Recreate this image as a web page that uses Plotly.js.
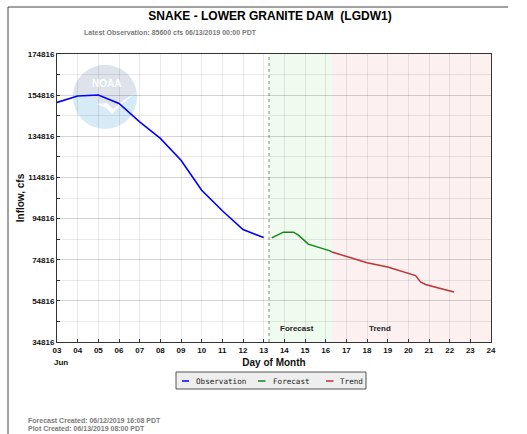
<!DOCTYPE html>
<html>
<head>
<meta charset="utf-8">
<script src="https://cdn.plot.ly/plotly-3.0.1.min.js"></script>
<style>html,body{margin:0;padding:0;background:#fff;}#chart{width:527px;height:434px;}</style>
</head>
<body>
<div id="chart"></div>
<script>
// ---- data ----
const obsDays = [3, 4, 5, 6, 7, 8, 9, 10, 11, 12, 13];
const obsFlow = [151300, 154400, 154900, 150800, 141800, 133800, 123200, 108600, 98600, 89500, 85600];
const fcDays = [13.39, 13.95, 14.44, 14.68, 15.16, 15.65, 16.21, 16.3];
const fcFlow = [85400, 88200, 88200, 86750, 82400, 81000, 79100, 78600];
const trendDays = [16.3, 17, 18, 19, 20, 20.35, 20.59, 20.83, 21.46, 22.21];
const trendFlow = [78600, 76500, 73300, 71300, 68400, 67100, 64000, 62750, 61100, 59150];
const xTickVals = [3,4,5,6,7,8,9,10,11,12,13,14,15,16,17,18,19,20,21,22,23,24];
const xTickText = ['03','04','05','06','07','08','09','10','11','12','13','14','15','16','17','18','19','20','21','22','23','24'];
const yTickVals = [34816, 54816, 74816, 94816, 114816, 134816, 154816, 174816];
const yTickText = ['34816','54816','74816','94816','114816','134816','154816','174816'];
const seriesNames = ['Observation', 'Forecast', 'Trend'];
const seriesColors = ['#0000ff', '#118811', '#c03333'];
const issueDay = 13.26;      // forecast issued (dashed line)
const trendStartDay = 16.3;  // forecast → trend boundary

// ---- layout helpers (pixel -> paper) ----
const L = 57, R = 491, T = 54, B = 342;
const px = x => (x - L) / (R - L);
const py = y => (B - y) / (B - T);
const FONT = 'Liberation Sans, Arial, sans-serif';

function arcPts(cx, cy, r, a1, a2, n) {
  const pts = [];
  for (let i = 0; i <= n; i++) {
    const a = (a1 + (a2 - a1) * i / n) * Math.PI / 180;
    pts.push([cx + r * Math.cos(a), cy - r * Math.sin(a)]);
  }
  return pts;
}
function pathFrom(pts) {
  return 'M' + pts.map(p => px(p[0]).toFixed(4) + ',' + py(p[1]).toFixed(4)).join(' L') + ' Z';
}

const traces = [
  {x: obsDays, y: obsFlow, name: seriesNames[0], mode: 'lines', line: {color: seriesColors[0], width: 1.6}, hoverinfo: 'none', showlegend: false},
  {x: fcDays, y: fcFlow, name: seriesNames[1], mode: 'lines', line: {color: seriesColors[1], width: 1.5}, hoverinfo: 'none', showlegend: false},
  {x: trendDays, y: trendFlow, name: seriesNames[2], mode: 'lines', line: {color: seriesColors[2], width: 1.5}, hoverinfo: 'none', showlegend: false}
];

// logo
const cx = 105, cy = 97, rr = 32;
const capPts = arcPts(cx, cy, rr, 170, 10, 30).concat([[126, 98], [116, 106], [110, 112], [104, 104], [92, 98], [80, 94]]);
const swoosh = [[96, 104], [106, 108], [112, 114], [122, 104], [134, 94], [137, 92], [124, 100], [113, 109], [107, 103]];

const shapes = [
  {type: 'rect', xref: 'x', yref: 'paper', x0: issueDay, x1: trendStartDay, y0: 0, y1: 1, fillcolor: 'rgb(240,251,240)', line: {width: 0}, layer: 'below'},
  {type: 'rect', xref: 'x', yref: 'paper', x0: trendStartDay, x1: 24, y0: 0, y1: 1, fillcolor: 'rgb(253,240,240)', line: {width: 0}, layer: 'below'},
  {type: 'line', xref: 'x', yref: 'paper', x0: issueDay, x1: issueDay, y0: 0, y1: 1, line: {color: '#888', width: 1, dash: 'dot'}, layer: 'below'},
  // logo
  {type: 'circle', xref: 'paper', yref: 'paper', x0: px(cx - rr), x1: px(cx + rr), y0: py(cy + rr), y1: py(cy - rr), fillcolor: 'rgb(214,235,246)', line: {width: 0}, layer: 'below'},
  {type: 'path', xref: 'paper', yref: 'paper', path: pathFrom(capPts), fillcolor: 'rgb(222,227,235)', line: {width: 0}, layer: 'below'},
  {type: 'path', xref: 'paper', yref: 'paper', path: pathFrom(swoosh), fillcolor: 'rgb(250,252,254)', line: {width: 0}, layer: 'below'},
  // outer frame
  {type: 'line', xref: 'paper', yref: 'paper', x0: px(8), x1: px(8), y0: py(7), y1: py(440), line: {color: '#444', width: 1}},
  {type: 'line', xref: 'paper', yref: 'paper', x0: px(8), x1: px(508), y0: py(7), y1: py(7), line: {color: '#444', width: 1}},
  // legend box
  {type: 'rect', xref: 'paper', yref: 'paper', x0: px(176), x1: px(366), y0: py(389), y1: py(372), fillcolor: '#eeeeee', line: {color: '#555', width: 1}},
  {type: 'line', xref: 'paper', yref: 'paper', x0: px(182), x1: px(189), y0: py(381), y1: py(381), line: {color: seriesColors[0], width: 1.5}},
  {type: 'line', xref: 'paper', yref: 'paper', x0: px(258), x1: px(265.5), y0: py(381), y1: py(381), line: {color: seriesColors[1], width: 1.5}},
  {type: 'line', xref: 'paper', yref: 'paper', x0: px(326), x1: px(333.5), y0: py(381), y1: py(381), line: {color: seriesColors[2], width: 1.5}}
];

const gray = '#7a7a7a';
const ann = (text, x, y, size, color, opts) => Object.assign({
  text: text, xref: 'paper', yref: 'paper', x: px(x), y: py(y), xanchor: 'left', yanchor: 'middle',
  showarrow: false, font: {family: FONT, size: size, color: color, weight: 700}
}, opts || {});

const annotations = [
  ann('Latest Observation: 85600 cfs 06/13/2019 00:00 PDT', 82, 33, 7, gray),
  ann('Forecast', 277.5, 328.5, 8, '#222'),
  ann('Trend', 367, 328.5, 8, '#222'),
  ann('Jun', 52, 362, 8, '#111'),
  ann('NOAA', 106, 83.5, 10, '#ffffff', {xanchor: 'center'}),
  ann('Forecast Created: 06/12/2019 16:08 PDT', 26, 420, 7, gray),
  ann('Plot Created: 06/13/2019 08:00 PDT', 26, 428.5, 7, gray),
  ann(seriesNames[0], 194, 381, 7.6, '#222', {font: {family: 'DejaVu Sans Mono, monospace', size: 7.6, color: '#222'}}),
  ann(seriesNames[1], 271, 381, 7.6, '#222', {font: {family: 'DejaVu Sans Mono, monospace', size: 7.6, color: '#222'}}),
  ann(seriesNames[2], 338, 381, 7.6, '#222', {font: {family: 'DejaVu Sans Mono, monospace', size: 7.6, color: '#222'}})
];

const gridC = 'rgba(0,0,0,0.085)';
const layout = {
  width: 527, height: 434,
  margin: {l: L, r: 527 - R, t: T, b: 434 - B, pad: 0},
  paper_bgcolor: '#ffffff', plot_bgcolor: '#ffffff',
  font: {family: FONT, size: 8, color: '#111'},
  title: {text: 'SNAKE - LOWER GRANITE DAM\u00a0\u00a0(LGDW1)', font: {family: FONT, size: 12, color: '#000', weight: 700},
          xref: 'paper', x: px(270), xanchor: 'center', yref: 'container', y: 1 - 16 / 434, yanchor: 'middle'},
  xaxis: {
    range: [3, 24], tickmode: 'array', tickvals: xTickVals, ticktext: xTickText,
    showgrid: true, gridcolor: gridC, gridwidth: 1, zeroline: false,
    showline: true, linecolor: '#333', linewidth: 1, mirror: true,
    ticks: 'inside', ticklen: 3, tickcolor: '#333',
    tickfont: {family: FONT, size: 8, color: '#111', weight: 700},
    title: {text: 'Day of Month', font: {family: FONT, size: 10, color: '#111', weight: 700}, standoff: 5}
  },
  yaxis: {
    range: [34816, 174816], tickmode: 'array', tickvals: yTickVals, ticktext: yTickText,
    showgrid: true, gridcolor: gridC, gridwidth: 1, zeroline: false,
    showline: true, linecolor: '#333', linewidth: 1, mirror: true,
    ticks: 'inside', ticklen: 3, tickcolor: '#333',
    tickfont: {family: FONT, size: 8, color: '#111', weight: 700},
    minor: {tick0: 34816, dtick: 10000, showgrid: true, gridcolor: gridC, ticks: 'inside', ticklen: 3, tickcolor: '#333'},
    title: {text: 'Inflow, cfs', font: {family: FONT, size: 10, color: '#111', weight: 700}, standoff: 1}
  },
  shapes: shapes,
  annotations: annotations,
  showlegend: false
};

Plotly.newPlot('chart', traces, layout, {staticPlot: true, displayModeBar: false});
</script>
</body>
</html>
